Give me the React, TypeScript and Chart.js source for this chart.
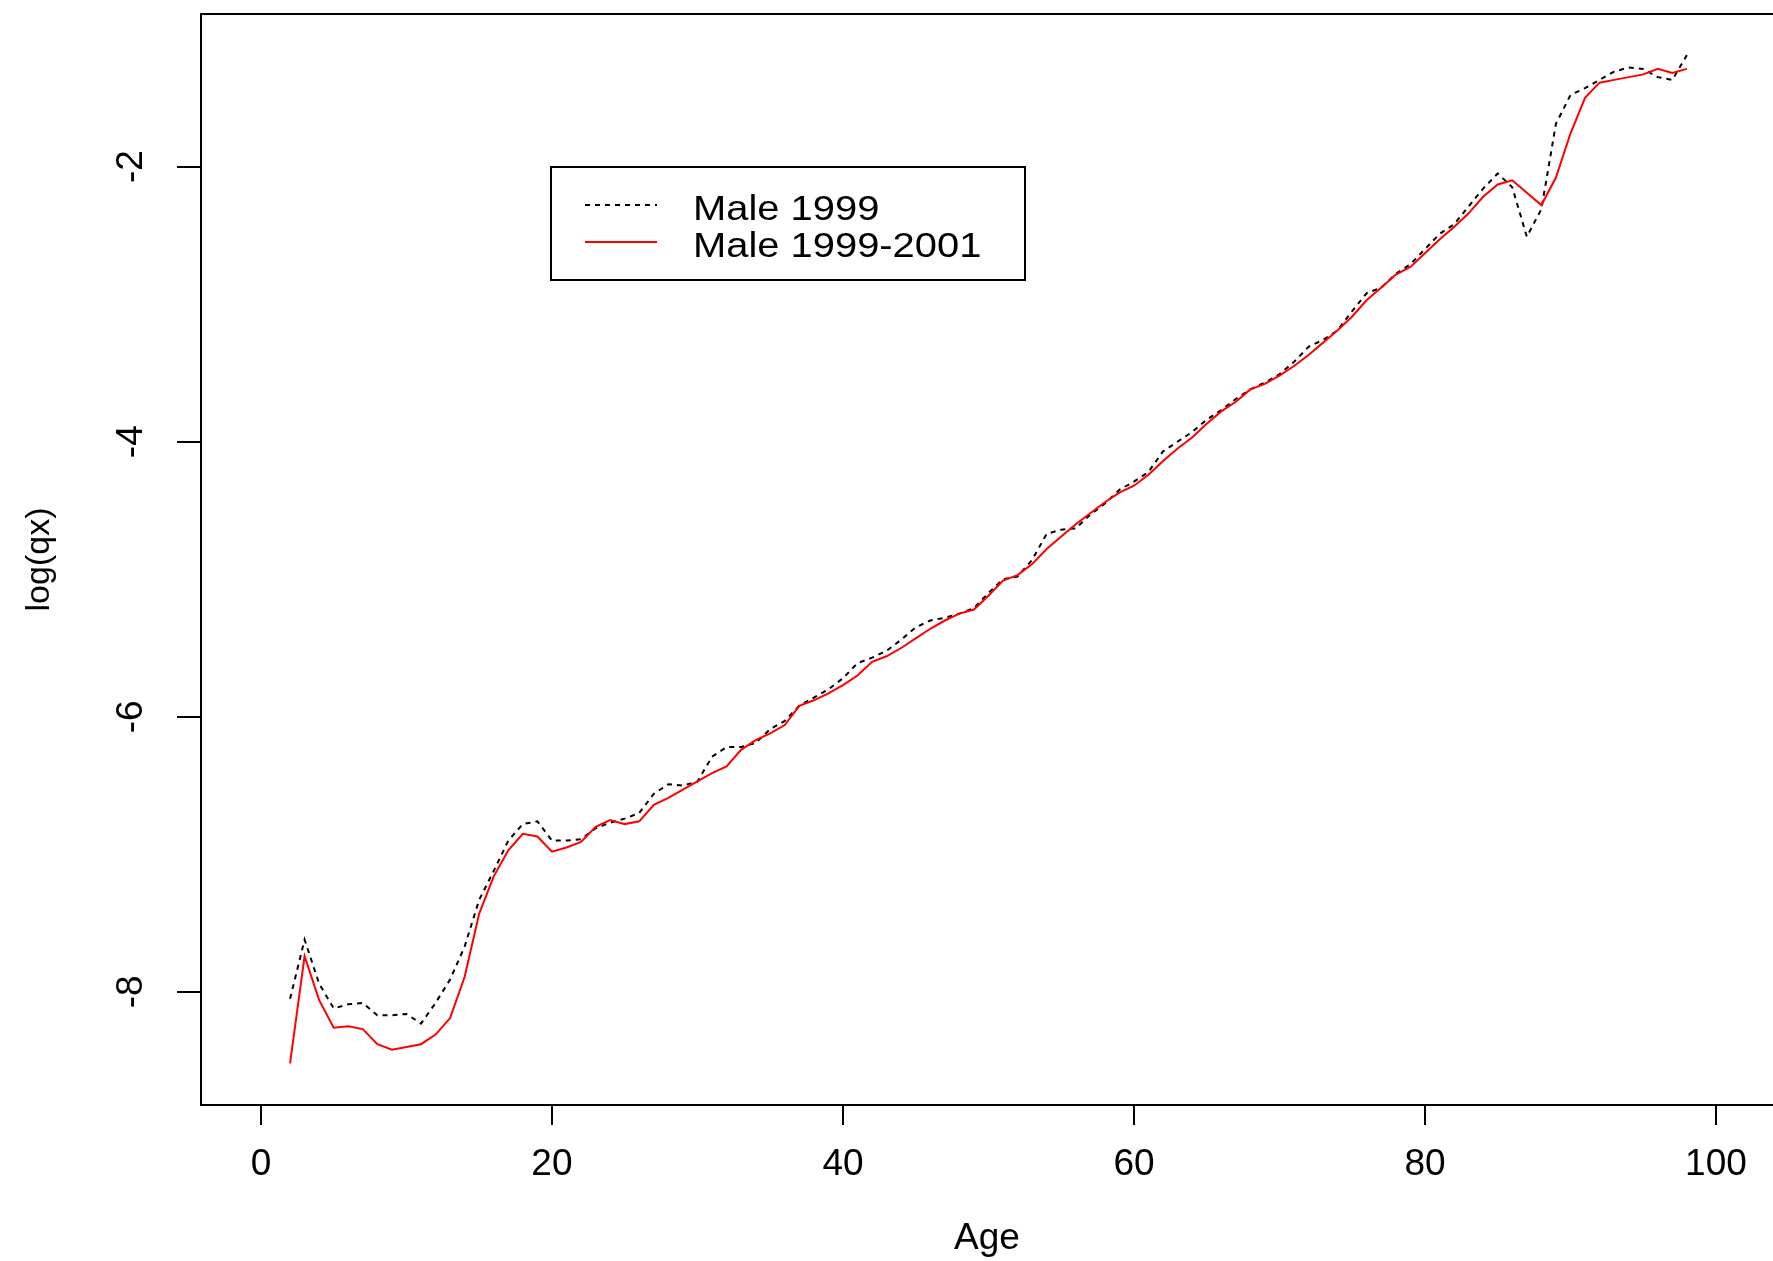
import React, { useEffect, useRef } from "react";
import { Chart, registerables } from "chart.js";

Chart.register(...registerables);

// ---- data ----
const ages = [
  2, 3, 4, 5, 6, 7, 8, 9, 10, 11, 12, 13, 14, 15, 16, 17, 18, 19, 20,
  21, 22, 23, 24, 25, 26, 27, 28, 29, 30, 31, 32, 33, 34, 35, 36, 37, 38, 39, 40,
  41, 42, 43, 44, 45, 46, 47, 48, 49, 50, 51, 52, 53, 54, 55, 56, 57, 58, 59, 60,
  61, 62, 63, 64, 65, 66, 67, 68, 69, 70, 71, 72, 73, 74, 75, 76, 77, 78, 79, 80,
  81, 82, 83, 84, 85, 86, 87, 88, 89, 90, 91, 92, 93, 94, 95, 96, 97, 98,
];

const male1999 = [
  -8.05, -7.62, -7.94, -8.12, -8.09, -8.08, -8.17, -8.17, -8.16, -8.23, -8.08, -7.91, -7.67, -7.33, -7.12, -6.9, -6.78, -6.76, -6.9,
  -6.9, -6.89, -6.81, -6.77, -6.74, -6.7, -6.56, -6.49, -6.5, -6.47, -6.29, -6.22, -6.22, -6.19, -6.09, -6.03, -5.92, -5.86, -5.8, -5.72,
  -5.61, -5.57, -5.52, -5.44, -5.35, -5.3, -5.28, -5.25, -5.21, -5.1, -5.0, -4.98, -4.86, -4.67, -4.64, -4.63, -4.53, -4.45, -4.35, -4.29,
  -4.22, -4.07, -4.0, -3.93, -3.84, -3.77, -3.69, -3.62, -3.57, -3.51, -3.42, -3.31, -3.26, -3.19, -3.05, -2.92, -2.88, -2.78, -2.71, -2.6,
  -2.49, -2.42, -2.29, -2.16, -2.05, -2.15, -2.51, -2.31, -1.69, -1.48, -1.43, -1.37, -1.31, -1.28, -1.29, -1.35, -1.37, -1.19,
];

const male1999to2001 = [
  -8.52, -7.74, -8.06, -8.26, -8.25, -8.27, -8.38, -8.42, -8.4, -8.38, -8.31, -8.19, -7.89, -7.43, -7.16, -6.97, -6.85, -6.87, -6.98,
  -6.95, -6.91, -6.8, -6.75, -6.78, -6.76, -6.64, -6.59, -6.53, -6.47, -6.41, -6.36, -6.24, -6.17, -6.12, -6.06, -5.92, -5.88, -5.83, -5.77,
  -5.7, -5.6, -5.56, -5.5, -5.43, -5.36, -5.3, -5.25, -5.22, -5.12, -5.01, -4.97, -4.89, -4.78, -4.69, -4.6, -4.52, -4.44, -4.37, -4.32,
  -4.24, -4.14, -4.05, -3.97, -3.87, -3.78, -3.71, -3.62, -3.58, -3.52, -3.45, -3.37, -3.28, -3.19, -3.09, -2.97, -2.88, -2.785, -2.73, -2.63,
  -2.53, -2.44, -2.34, -2.22, -2.13, -2.1, -2.19, -2.28, -2.08, -1.76, -1.5, -1.39, -1.37, -1.35, -1.33, -1.29, -1.32, -1.29,
];

const seriesLabels = ["Male 1999", "Male 1999-2001"];
const xTicks = [0, 20, 40, 60, 80, 100];
const yTicks = [-8, -6, -4, -2];
const xTitle = "Age";
const yTitle = "log(qx)";

const FONT = "'Liberation Sans', Arial, Helvetica, sans-serif";
const W = 1773;
const H = 1261;

export default function App() {
  const ref = useRef<HTMLCanvasElement>(null);

  useEffect(() => {
    const canvas = ref.current;
    if (!canvas) return;

    const boxPlugin = {
      id: "rbox",
      beforeDraw(chart: any) {
        const ctx = chart.ctx;
        ctx.save();
        ctx.fillStyle = "#ffffff";
        ctx.fillRect(0, 0, chart.width, chart.height);
        ctx.restore();
      },
      afterDraw(chart: any) {
        const ctx = chart.ctx;
        const a = chart.chartArea;
        ctx.save();
        ctx.strokeStyle = "#000";
        ctx.lineWidth = 2;
        ctx.beginPath();
        ctx.moveTo(a.left, a.top);
        ctx.lineTo(chart.width, a.top);
        ctx.stroke();

        // legend box
        const lx = a.left + 350;
        const ly = a.top + 153;
        const lw = 474;
        const lh = 113;
        ctx.lineWidth = 2;
        ctx.setLineDash([]);
        ctx.strokeRect(lx, ly, lw, lh);

        const ds = chart.data.datasets;
        const rows = [
          { y: ly + 38, tb: ly + 53 },
          { y: ly + 75, tb: ly + 89.5 },
        ];
        rows.forEach((r, i) => {
          const d = ds[i];
          ctx.save();
          ctx.strokeStyle = d.borderColor;
          ctx.lineWidth = d.borderWidth;
          ctx.setLineDash(d.borderDash || []);
          ctx.beginPath();
          ctx.moveTo(lx + 34, r.y);
          ctx.lineTo(lx + 106, r.y);
          ctx.stroke();
          ctx.restore();

          ctx.save();
          ctx.fillStyle = "#000";
          ctx.font = `35px ${FONT}`;
          ctx.textBaseline = "alphabetic";
          ctx.textAlign = "left";
          ctx.translate(lx + 142, r.tb);
          ctx.scale(1.14, 1);
          ctx.fillText(d.label, 0, 0);
          ctx.restore();
        });
        ctx.restore();
      },
    };

    const chart = new Chart(canvas, {
      type: "line",
      data: {
        datasets: [
          {
            label: seriesLabels[0],
            data: ages.map((a, i) => ({ x: a, y: male1999[i] })),
            borderColor: "#000000",
            borderWidth: 2,
            borderDash: [5, 5],
            pointRadius: 0,
            tension: 0,
            fill: false,
            order: 1,
          },
          {
            label: seriesLabels[1],
            data: ages.map((a, i) => ({ x: a, y: male1999to2001[i] })),
            borderColor: "#ff0000",
            borderWidth: 2,
            pointRadius: 0,
            tension: 0,
            fill: false,
            order: 0,
          },
        ],
      },
      options: {
        animation: false,
        responsive: false,
        devicePixelRatio: 1,
        layout: { padding: { top: 14, right: 0, left: 0, bottom: 0 } },
        plugins: {
          legend: { display: false },
          tooltip: { enabled: false },
        },
        scales: {
          x: {
            type: "linear",
            min: -4.12,
            max: 103.92,
            afterBuildTicks: (s: any) => {
              s.ticks = xTicks.map((v) => ({ value: v }));
            },
            afterFit: (s: any) => {
              s.height = 156;
              s.paddingLeft = 0;
              s.paddingRight = 0;
              s.paddingTop = 0;
              s.paddingBottom = 0;
            },
            grid: {
              drawOnChartArea: false,
              drawTicks: true,
              tickLength: 20,
              color: "#000",
              lineWidth: 2,
            },
            border: { display: true, color: "#000", width: 2 },
            ticks: {
              autoSkip: false,
              maxRotation: 0,
              minRotation: 0,
              padding: 18,
              color: "#000",
              font: { family: FONT, size: 37 },
              callback: (v: any) => String(v),
            },
            title: {
              display: true,
              text: xTitle,
              color: "#000",
              font: { family: FONT, size: 37 },
              padding: { top: 0, bottom: 0 },
            },
          },
          y: {
            type: "linear",
            min: -8.822,
            max: -0.891,
            afterBuildTicks: (s: any) => {
              s.ticks = yTicks.map((v) => ({ value: v }));
            },
            afterFit: (s: any) => {
              s.width = 201;
              s.paddingLeft = 0;
              s.paddingRight = 0;
              s.paddingTop = 0;
              s.paddingBottom = 0;
            },
            grid: {
              drawOnChartArea: false,
              drawTicks: true,
              tickLength: 24,
              color: "#000",
              lineWidth: 2,
            },
            border: { display: true, color: "#000", width: 2 },
            ticks: {
              autoSkip: false,
              minRotation: 90,
              maxRotation: 90,
              crossAlign: "center",
              padding: 29,
              color: "#000",
              font: { family: FONT, size: 37 },
              callback: (v: any) => String(v),
            },
            title: {
              display: true,
              text: yTitle,
              color: "#000",
              font: { family: FONT, size: 34 },
              padding: { top: 19, bottom: 0 },
            },
          },
        },
      },
      plugins: [boxPlugin],
    } as any);

    return () => chart.destroy();
  }, []);

  return (
    <div style={{ position: "absolute", left: 0, top: 0, width: W, height: H, background: "#fff" }}>
      <canvas ref={ref} width={W} height={H} style={{ display: "block", width: W, height: H }} />
    </div>
  );
}
